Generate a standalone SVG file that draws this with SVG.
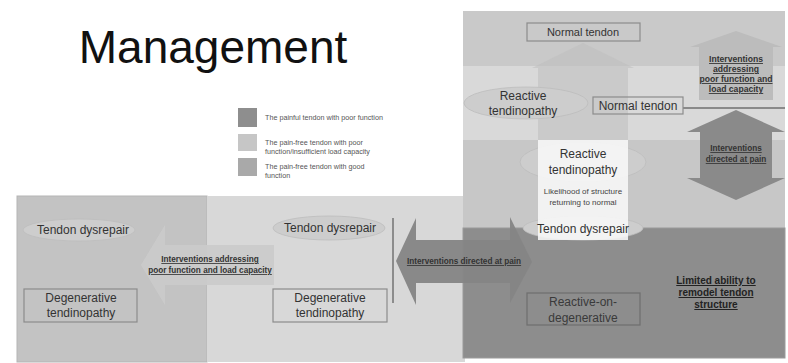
<svg xmlns="http://www.w3.org/2000/svg" width="788" height="363" viewBox="0 0 788 363">
<style>
text{font-family:"Liberation Sans",Arial,sans-serif;fill:#333;text-anchor:middle}
.lbl{font-size:12px}
.sm{font-size:8px;fill:#444}
.b{font-size:8.2px;font-weight:bold;text-decoration:underline;fill:#333}
.leg{font-size:7.2px;fill:#555;text-anchor:start}
.box{fill:none;stroke:#8c8c8c;stroke-width:1.2}
.ell{fill:#cdcdcd;stroke:#bdbdbd;stroke-width:0.8}
</style>
<rect width="788" height="363" fill="#ffffff"/>
<g id="panels">
<rect x="17" y="196" width="190" height="166" fill="#c3c3c3" stroke="#b5b5b5"/>
<rect x="207" y="196" width="258" height="166" fill="#d8d8d8"/>
<rect x="463" y="11" width="322" height="55" fill="#c9c9c9"/>
<rect x="463" y="66" width="322" height="74" fill="#d9d9d9"/>
<rect x="463" y="140" width="322" height="88" fill="#c7c7c7"/>
<rect x="463" y="228" width="322" height="130" fill="#8d8d8d" stroke="#9a9a9a"/>
</g>
<text x="213" y="63" style="font-size:46px;fill:#111">Management</text>
<g id="legend">
<rect x="238" y="108" width="19" height="19" fill="#8e8e8e"/>
<rect x="238" y="134" width="19" height="17" fill="#c6c6c6"/>
<rect x="238" y="158" width="19" height="18" fill="#a9a9a9"/>
<text class="leg" x="265" y="120">The painful tendon with poor function</text>
<text class="leg" x="265" y="145">The pain-free tendon with poor</text>
<text class="leg" x="265" y="154">function/insufficient load capacity</text>
<text class="leg" x="265" y="169">The pain-free tendon with good</text>
<text class="leg" x="265" y="178">function</text>
</g>
<g id="connectors">
<polygon points="538,228 538,68 532,68 583,43 634,68 628,68 628,228" fill="#bdbdbd" opacity="0.55"/>
<polygon points="274,245 165,245 165,225 141,265 165,305 165,285 274,285" fill="#cbcbcb" opacity="0.9"/>
<line x1="393" y1="218" x2="393" y2="303" stroke="#8c8c8c" stroke-width="2"/>
<polygon points="396,261 416,218 416,240 510,240 510,217 532,262 510,303 510,283 416,283 416,305" fill="#858585" opacity="0.95"/>
<polygon points="699,100 699,47 690,47 736,31 782,47 773,47 773,100" fill="#bcbcbc"/>
<line x1="683" y1="108" x2="785" y2="108" stroke="#8a8a8a" stroke-width="2"/>
<polygon points="736,110 785,132 772,132 772,178 785,178 736,200 687,178 700,178 700,132 687,132" fill="#8a8a8a"/>
</g>
<g id="n-reactive2">
<ellipse cx="583" cy="162" rx="63" ry="20" class="ell"/>
</g>
<g id="n-dysrepair3">
<ellipse cx="583" cy="228" rx="60" ry="12" class="ell"/>
</g>
<rect x="538" y="140" width="90" height="100" fill="#f8f8f8" opacity="0.88"/>
<g id="n-reactive2-text">
<text class="lbl" x="583" y="158">Reactive</text>
<text class="lbl" x="583" y="174">tendinopathy</text>
</g>
<g id="n-likelihood">
<text class="sm" x="583" y="194">Likelihood of structure</text>
<text class="sm" x="583" y="205">returning to normal</text>
</g>
<g id="n-dysrepair3-text">
<text class="lbl" x="583" y="233">Tendon dysrepair</text>
</g>
<g id="n-normal-top">
<rect x="527" y="23" width="113" height="18" class="box"/>
<text class="lbl" x="583" y="36" style="font-size:11px">Normal tendon</text>
</g>
<g id="n-reactive1">
<ellipse cx="526" cy="103" rx="62" ry="16" class="ell"/>
<text class="lbl" x="523" y="100">Reactive</text>
<text class="lbl" x="523" y="115">tendinopathy</text>
</g>
<g id="n-normal-mid">
<rect x="593" y="97" width="90" height="17" class="box"/>
<text class="lbl" x="638" y="110">Normal tendon</text>
</g>
<g id="n-int-func-up">
<text class="b" x="736" y="62" style="font-size:8.6px">Interventions</text>
<text class="b" x="736" y="72" style="font-size:8.6px">addressing</text>
<text class="b" x="736" y="82" style="font-size:8.6px">poor function and</text>
<text class="b" x="736" y="92" style="font-size:8.6px">load capacity</text>
</g>
<g id="n-int-pain-v">
<text class="b" x="736" y="151">Interventions</text>
<text class="b" x="736" y="162">directed at pain</text>
</g>
<g id="n-int-pain-h">
<text class="b" x="464" y="264">Interventions directed at pain</text>
</g>
<g id="n-int-func-h">
<text class="b" x="210" y="262">Interventions addressing</text>
<text class="b" x="210" y="273">poor function and load capacity</text>
</g>
<g id="n-dysrepair1">
<ellipse cx="79" cy="230" rx="56" ry="11" class="ell"/>
<text class="lbl" x="83" y="234">Tendon dysrepair</text>
</g>
<g id="n-degen1">
<rect x="24" y="289" width="113" height="33" class="box"/>
<text class="lbl" x="81" y="302">Degenerative</text>
<text class="lbl" x="81" y="317">tendinopathy</text>
</g>
<g id="n-dysrepair2">
<ellipse cx="329" cy="228" rx="56" ry="12" class="ell"/>
<text class="lbl" x="330" y="232">Tendon dysrepair</text>
</g>
<g id="n-degen2">
<rect x="273" y="289" width="114" height="33" class="box"/>
<text class="lbl" x="330" y="302">Degenerative</text>
<text class="lbl" x="330" y="317">tendinopathy</text>
</g>
<g id="n-rod">
<rect x="527" y="293" width="113" height="32" class="box" style="stroke:#6e6e6e"/>
<text class="lbl" x="583" y="306" style="fill:#3a3a3a">Reactive-on-</text>
<text class="lbl" x="583" y="322" style="fill:#3a3a3a">degenerative</text>
</g>
<g id="n-limited">
<text class="b" x="716" y="284" style="font-size:10px;fill:#222">Limited ability to</text>
<text class="b" x="716" y="296" style="font-size:10px;fill:#222">remodel tendon</text>
<text class="b" x="716" y="308" style="font-size:10px;fill:#222">structure</text>
</g>
</svg>
